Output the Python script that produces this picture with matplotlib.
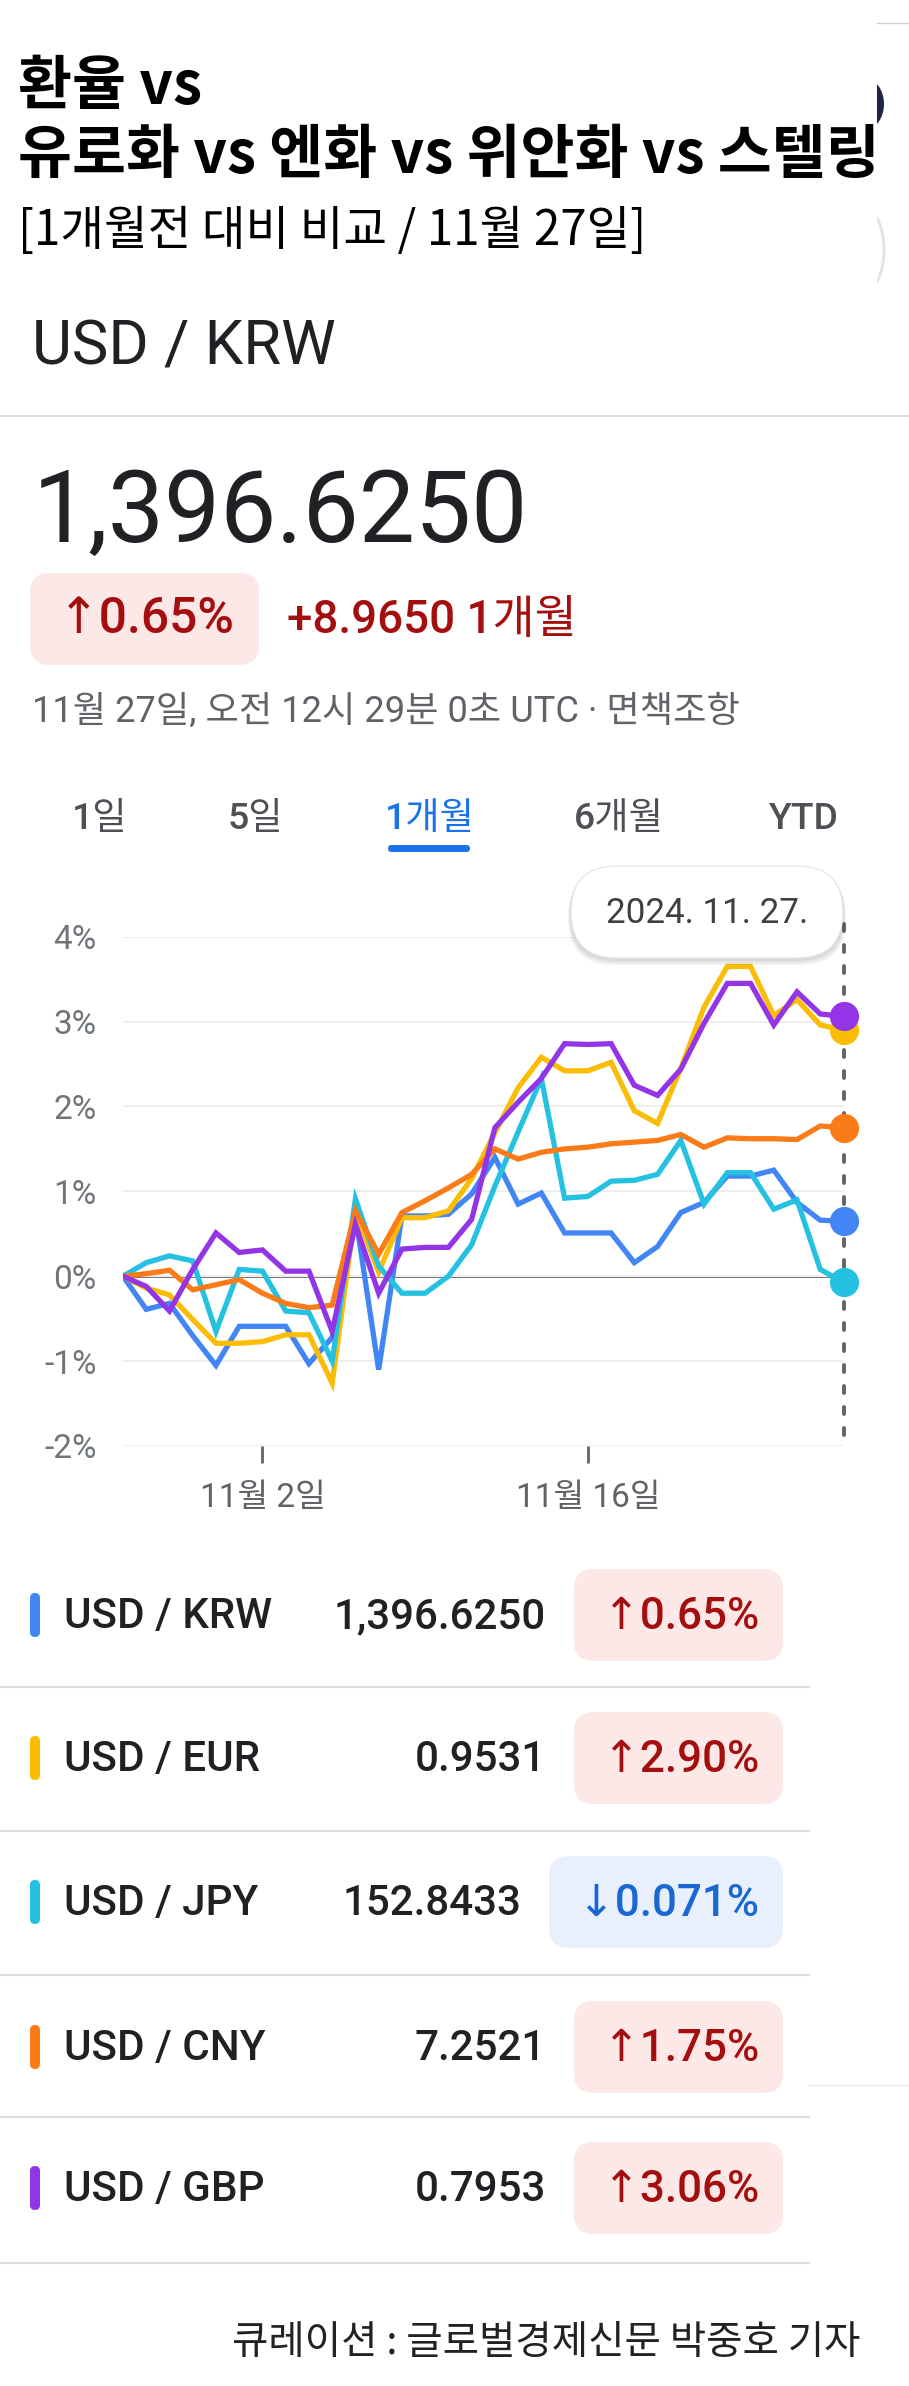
import matplotlib
matplotlib.use('Agg')
import matplotlib.pyplot as plt
from matplotlib.patches import FancyBboxPatch, Ellipse, Rectangle
import pandas as pd

W, H = 909, 2386

# ---------------- data ----------------
title_lines = ['환율 vs', '유로화 vs 엔화 vs 위안화 vs 스텔링']
subtitle = '[1개월전 대비 비교 / 11월 27일]'
pair_title = 'USD / KRW'
price = '1,396.6250'
price_change_pct = '↑0.65%'
price_change_abs = '+8.9650 1개월'
timestamp = '11월 27일, 오전 12시 29분 0초 UTC · 면책조항'
tabs = ['1일', '5일', '1개월', '6개월', 'YTD']
active_tab = '1개월'
tooltip_date = '2024. 11. 27.'
footer = '큐레이션 : 글로벌경제신문 박중호 기자'

dates = pd.date_range('2024-10-27', '2024-11-27', freq='D')
krw = [0, -0.39, -0.32, -0.70, -1.05, -0.59, -0.59, -0.59, -1.03, -0.72, 0.72, -1.10,
       0.71, 0.71, 0.73, 0.97, 1.40, 0.85, 0.98, 0.51, 0.51, 0.51, 0.16, 0.35,
       0.75, 0.87, 1.18, 1.18, 1.25, 0.87, 0.66, 0.65]
eur = [0, -0.14, -0.22, -0.51, -0.79, -0.79, -0.77, -0.69, -0.69, -1.26, 0.77, 0.05,
       0.69, 0.69, 0.77, 1.15, 1.69, 2.22, 2.58, 2.42, 2.42, 2.52, 1.95, 1.80,
       2.45, 3.17, 3.65, 3.65, 3.07, 3.26, 2.96, 2.90]
jpy = [0, 0.16, 0.24, 0.18, -0.65, 0.08, 0.06, -0.41, -0.43, -1.00, 0.91, 0.12,
       -0.20, -0.20, 0.00, 0.37, 1.06, 1.70, 2.33, 0.92, 0.94, 1.12, 1.13, 1.20,
       1.60, 0.85, 1.22, 1.22, 0.79, 0.90, 0.08, -0.071]
cny = [0, 0.03, 0.07, -0.16, -0.10, -0.04, -0.20, -0.32, -0.37, -0.34, 0.77, 0.26,
       0.75, 0.89, 1.04, 1.20, 1.50, 1.38, 1.46, 1.50, 1.52, 1.56, 1.58, 1.60,
       1.67, 1.52, 1.63, 1.62, 1.62, 1.61, 1.77, 1.75]
gbp = [0, -0.12, -0.41, 0.08, 0.51, 0.28, 0.31, 0.06, 0.06, -0.65, 0.61, -0.20,
       0.32, 0.34, 0.34, 0.67, 1.75, 2.05, 2.33, 2.74, 2.73, 2.74, 2.25, 2.13,
       2.44, 2.98, 3.45, 3.45, 2.96, 3.35, 3.09, 3.06]

y_ticks = [-2, -1, 0, 1, 2, 3, 4]
y_tick_labels = ['-2%', '-1%', '0%', '1%', '2%', '3%', '4%']
x_ticks = pd.to_datetime(['2024-11-02', '2024-11-16'])
x_tick_labels = ['11월 2일', '11월 16일']

pairs = ['USD / KRW', 'USD / EUR', 'USD / JPY', 'USD / CNY', 'USD / GBP']
rates = ['1,396.6250', '0.9531', '152.8433', '7.2521', '0.7953']
changes = [0.65, 2.90, -0.071, 1.75, 3.06]
change_labels = ['↑0.65%', '↑2.90%', '↓0.071%', '↑1.75%', '↑3.06%']
series = [krw, eur, jpy, cny, gbp]
colors = ['#4285F4', '#FBBC04', '#24C1E0', '#FA7B17', '#9334E6']

# ---------------- style ----------------
KR = ['Noto Sans CJK KR', 'DejaVu Sans']
LAT = ['Roboto', 'Noto Sans CJK KR', 'DejaVu Sans']
ARW = ['Roboto', 'DejaVu Sans']

fig = plt.figure(figsize=(W / 100, H / 100), dpi=100, facecolor='white')
bg = fig.add_axes([0, 0, 1, 1], zorder=0)
bg.set_xlim(0, W); bg.set_ylim(H, 0); bg.axis('off')
top = fig.add_axes([0, 0, 1, 1], zorder=3)
top.set_xlim(0, W); top.set_ylim(H, 0); top.axis('off'); top.patch.set_alpha(0)
renderer = fig.canvas.get_renderer()


def fit(t, target):
    w = t.get_window_extent(renderer).width
    t.set_fontsize(t.get_fontsize() * target / w)
    return t


def rbox(axx, x, y, w, h, r, fc, ec='none', lw=0, z=1):
    p = FancyBboxPatch((x, y), w, h, boxstyle=f'round,pad=0,rounding_size={r}',
                       fc=fc, ec=ec, lw=lw, zorder=z, mutation_aspect=1)
    axx.add_patch(p)
    return p


# title
t2 = bg.text(18, 173, title_lines[1], fontsize=40, fontweight='black', family=KR,
             color='black', va='baseline')
fit(t2, 862)
bg.text(18, 104, title_lines[0], fontsize=t2.get_fontsize(), fontweight='black',
        family=KR, color='black', va='baseline')
fit(bg.text(18, 245, subtitle, fontsize=32, family=KR, color='black', va='baseline'), 629)

# top-right screenshot remnants
ell = Ellipse((866, 104), 36, 50, fc='#1c2541', ec='none', zorder=1)
bg.add_patch(ell)
ell.set_clip_path(Rectangle((877, 0), 40, 400, transform=bg.transData))
ell2 = Ellipse((866, 250), 36, 80, fc='none', ec='#e3e3e3', lw=2, zorder=1)
bg.add_patch(ell2)
ell2.set_clip_path(Rectangle((877, 0), 40, 400, transform=bg.transData))
bg.plot([877, 909], [23, 23], color='#cfcfcf', lw=1)

# header
fit(bg.text(32, 365, pair_title, fontsize=43, family=LAT, color='#202124', va='baseline'), 304)
bg.plot([0, W], [416, 416], color='#dadce0', lw=1.5)
fit(bg.text(33, 542, price, fontsize=72, family=LAT, color='#202124', va='baseline'), 495)
rbox(bg, 30, 573, 229, 92, 20, '#fce8e6')
fit(bg.text(58, 633, price_change_pct, fontsize=33, family=ARW, fontweight='medium',
            color='#a50e0e', va='baseline'), 177)
fit(bg.text(287, 633, price_change_abs, fontsize=33, family=LAT, fontweight='medium',
            color='#a50e0e', va='baseline'), 290)
fit(bg.text(32, 722, timestamp, fontsize=24, family=LAT, color='#5f6368', va='baseline'), 707)

# tabs
tab_x = [100, 255, 430, 619, 804]
ref = bg.text(0, 0, active_tab, fontsize=26, family=LAT, fontweight='medium')
fit(ref, 90)
tab_fs = ref.get_fontsize()
ref.remove()
for tx, lab in zip(tab_x, tabs):
    col = '#1a73e8' if lab == active_tab else '#4d5156'
    bg.text(tx, 829, lab, fontsize=tab_fs, family=LAT, fontweight='medium', color=col,
            ha='center', va='baseline')
rbox(bg, 388, 845, 82, 7, 3.5, '#1a73e8')

# tooltip pill
for i, a in enumerate([0.05, 0.05, 0.05]):
    rbox(top, 571 - 1 - i, 866 + 2 + i, 272 + 2 + 2 * i, 92 + 1 + i, 46, (0, 0, 0, a), z=1)
rbox(top, 571, 866, 272, 92, 46, 'white', ec='#e4e4e4', lw=0.8, z=2)
fit(top.text(707, 923, tooltip_date, fontsize=25, family=LAT, color='#3c4043',
             ha='center', va='baseline', zorder=3), 203)

# ---------------- chart ----------------
x0, x1, ytop, ybot = 123, 843.5, 936.7, 1446
ax = fig.add_axes([x0 / W, 1 - ybot / H, (x1 - x0) / W, (ybot - ytop) / H], zorder=1)
ax.patch.set_alpha(0)
for s in ax.spines.values():
    s.set_visible(False)
ax.set_xlim(dates[0], dates[-1])
ax.set_ylim(-2, 4)
ax.set_yticks(y_ticks)
ax.set_yticklabels(y_tick_labels, family=LAT)
ax.grid(axis='y', color='#eeeeee', lw=1.5, zorder=0)
ax.axhline(0, color='#5f6368', lw=2.0, zorder=1)
ax.tick_params(axis='y', length=0, pad=19, labelsize=24, labelcolor='#70757a')
ax.set_xticks(x_ticks)
ax.set_xticklabels(x_tick_labels, family=LAT)
ax.tick_params(axis='x', length=12, width=2.0, color='#5f6368', pad=14,
               labelsize=24, labelcolor='#5f6368')

ax.plot([dates[-1], dates[-1]], [4.15, -2], color='#5f6368', lw=2.8,
        linestyle=(0, (1.8, 3.6)), dash_capstyle='round', clip_on=False, zorder=2)
for vals, col in zip(series, colors):
    ax.plot(dates, vals, color=col, lw=3.8, zorder=3, solid_joinstyle='miter')
for vals, col in zip(series, colors):
    ax.plot([dates[-1]], [vals[-1]], 'o', ms=21, color=col, mec='none',
            clip_on=False, zorder=4)

# ---------------- table ----------------
row_c = [1615, 1758, 1902, 2047, 2188]
seps = [1687, 1831, 1975, 2117, 2263]
ref = bg.text(0, 0, pairs[0], fontsize=30, family=LAT, fontweight='medium')
fit(ref, 208)
lab_fs = ref.get_fontsize()
ref.remove()
ref = bg.text(0, 0, change_labels[0], fontsize=30, family=ARW, fontweight='medium')
fit(ref, 156)
bd_fs = ref.get_fontsize()
ref.remove()
inv = bg.transData.inverted()
for c, col, lab, rate, chg, cl in zip(row_c, colors, pairs, rates, changes, change_labels):
    rbox(bg, 30, c - 22, 10, 44, 5, col)
    bg.text(64, c + 13, lab, fontsize=lab_fs, family=LAT, fontweight='medium',
            color='#202124', va='baseline')
    up = chg > 0
    tc = '#a50e0e' if up else '#1967d2'
    fc = '#fce8e6' if up else '#e8f0fe'
    t = bg.text(759, c + 14, cl, fontsize=bd_fs, family=ARW, fontweight='medium', color=tc,
                ha='right', va='baseline', zorder=3)
    bb = t.get_window_extent(renderer)
    left = inv.transform((bb.x0, 0))[0]
    bl = left - 29
    rbox(bg, bl, c - 46, 783 - bl, 92, 20, fc)
    bg.text(bl - 28, c + 13, rate, fontsize=lab_fs, family=LAT, fontweight='medium',
            color='#202124', ha='right', va='baseline')
for s in seps:
    bg.plot([0, 809], [s, s], color='#dadce0', lw=1.5)
bg.plot([809, W], [2085, 2085], color='#ececec', lw=1)

fit(bg.text(861, 2343, footer, fontsize=27, family=KR, fontweight='light',
            color='#222222', ha='right', va='center'), 629)

fig.savefig('out.png', dpi=100, facecolor='white')
